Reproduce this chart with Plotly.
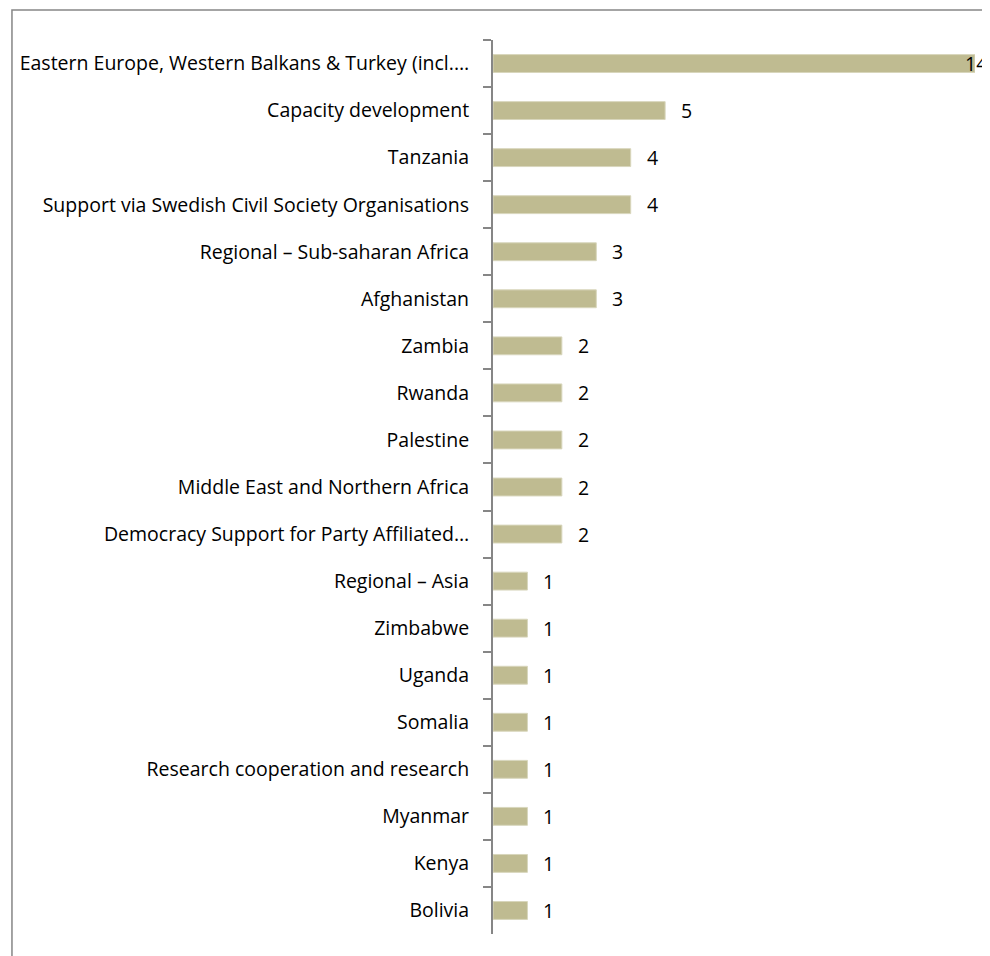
import plotly.graph_objects as go

categories = [
    "Eastern Europe, Western Balkans & Turkey (incl.…",
    "Capacity development",
    "Tanzania",
    "Support via Swedish Civil Society Organisations",
    "Regional – Sub-saharan Africa",
    "Afghanistan",
    "Zambia",
    "Rwanda",
    "Palestine",
    "Middle East and Northern Africa",
    "Democracy Support for Party Affiliated…",
    "Regional – Asia",
    "Zimbabwe",
    "Uganda",
    "Somalia",
    "Research cooperation and research",
    "Myanmar",
    "Kenya",
    "Bolivia",
]
values = [14, 5, 4, 4, 3, 3, 2, 2, 2, 2, 2, 1, 1, 1, 1, 1, 1, 1, 1]

FONT = "Open Sans"
GRAY = "#868686"
FS = 19.5

fig = go.Figure()
fig.add_trace(go.Bar(
    x=values, y=categories, orientation="h",
    marker=dict(color="#BFBB91", line=dict(color="#D8D6BC", width=1)),
    width=0.38, hoverinfo="x+y",
))

vmax = max(values)
for c, v in zip(categories, values):
    if v == vmax:
        # the longest bar reaches the right edge: keep its label inside the page
        fig.add_annotation(
            x=v, y=c, xref="x", yref="y", text=str(v), showarrow=False,
            xanchor="right", xshift=14,
            font=dict(family=FONT, size=FS, color="#000000"),
        )
    else:
        fig.add_annotation(
            x=v, y=c, xref="x", yref="y", text=str(v), showarrow=False,
            xanchor="center", xshift=21.5,
            font=dict(family=FONT, size=FS, color="#000000"),
        )

fig.add_shape(type="rect", xref="paper", yref="paper",
              x0=-0.998, x1=1.06, y0=-0.05, y1=1.0336,
              line=dict(color=GRAY, width=1.5), fillcolor="rgba(0,0,0,0)", layer="below")

fig.update_layout(
    width=982, height=948,
    margin=dict(l=483, r=15, t=32, b=22),
    paper_bgcolor="white", plot_bgcolor="white",
    showlegend=False,
    font=dict(family=FONT, size=FS, color="#000000"),
    xaxis=dict(range=[0, 14], visible=False, showgrid=False, zeroline=False),
    yaxis=dict(
        autorange="reversed", showline=True, linecolor=GRAY, linewidth=2,
        ticks="outside", ticklen=8, tickcolor=GRAY, tickwidth=2,
        tickson="boundaries", ticklabelstandoff=18, showgrid=False,
        tickfont=dict(family=FONT, size=FS, color="#000000"),
    ),
)

fig.write_html("out.html")
